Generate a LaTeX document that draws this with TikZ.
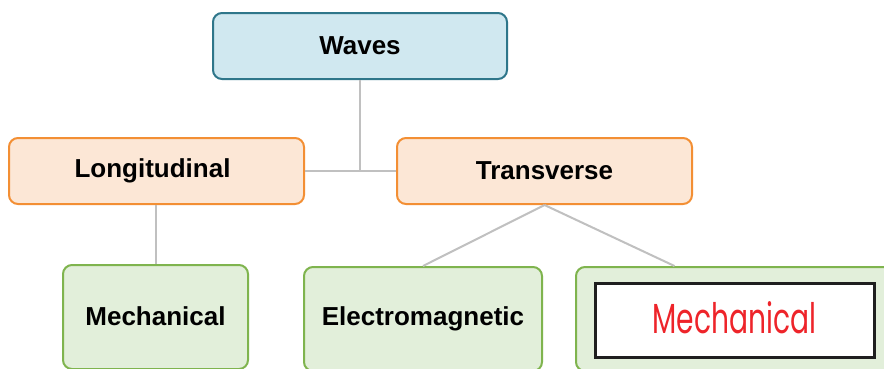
\documentclass[tikz,border=0pt]{standalone}
\usepackage{fontspec}
\setmainfont{Liberation Sans}
\newfontfamily\handfont[FakeStretch=0.67]{Poppins}
\usetikzlibrary{calc}
\definecolor{topfill}{RGB}{208,232,240}
\definecolor{topline}{RGB}{46,118,138}
\definecolor{midfill}{RGB}{252,231,214}
\definecolor{midline}{RGB}{243,143,52}
\definecolor{lowfill}{RGB}{226,239,218}
\definecolor{lowline}{RGB}{127,180,78}
\definecolor{edgegray}{RGB}{192,192,192}
\definecolor{handred}{RGB}{238,36,42}
\begin{document}
\begin{tikzpicture}[x=1pt, y=-1pt, font=\fontsize{26}{30}\selectfont\bfseries]
\tikzstyle{box_style} = [rectangle, rounded corners=9pt, line width=2pt, inner sep=0pt]
\tikzstyle{top_style} = [box_style, draw=topline, fill=topfill, minimum width=294pt, minimum height=66pt]
\tikzstyle{mid_style} = [box_style, draw=midline, fill=midfill, minimum width=295pt, minimum height=66pt]
\tikzstyle{low_style} = [box_style, draw=lowline, fill=lowfill, minimum height=104pt]
\tikzstyle{edge_style} = [draw=edgegray, line width=2pt]

\clip (0,0) rectangle (884,368);
\fill[white] (0,0) rectangle (884,368);

\node[top_style] (waves) at (360,46) {Waves};
\node[mid_style] (longi) at (156.5,171) {\hspace*{-8pt}\raisebox{-2pt}{Longitudinal}};
\node[mid_style] (trans) at (544.5,171) {\raisebox{-1pt}{Transverse}};

\node[low_style, minimum width=185pt] (mech1) at (155.5,317) {\raisebox{1pt}{Mechanical}};
\node[low_style, minimum width=238pt] (em) at (423,319) {Electromagnetic};
\node[low_style, minimum width=319pt] (mech2) at (735.5,319) {};
\node[rectangle, draw={black!88}, fill=white, line width=3pt, minimum width=279pt, minimum height=74pt] (answer) at (734.5,320)
  {\raisebox{5pt}{\handfont\mdseries\fontsize{42}{48}\selectfont\color{handred}Mechanical}};

\draw[edge_style] (waves.south) -- (waves.south |- longi.east);
\draw[edge_style] (longi.east) -- (trans.west);
\draw[edge_style] (mech1.north |- longi.south) -- (mech1.north);
\draw[edge_style] (trans.south) -- (em.north);
\draw[edge_style] (trans.south) -- ($(mech2.north west)!0.31!(mech2.north east)$);
\end{tikzpicture}
\end{document}
